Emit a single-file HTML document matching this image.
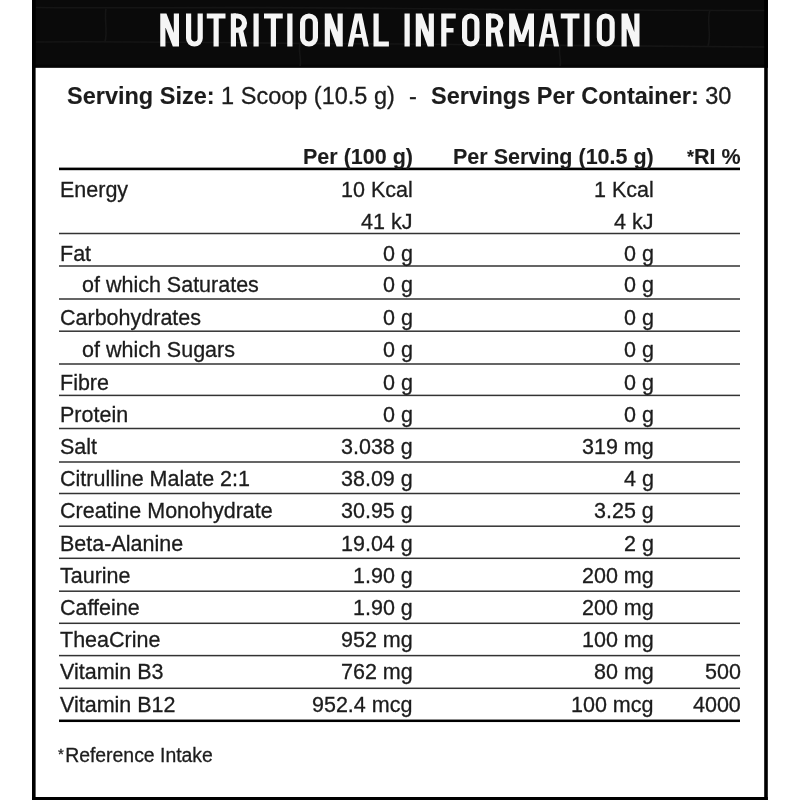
<!DOCTYPE html>
<html><head><meta charset="utf-8"><style>
html,body{margin:0;padding:0;background:#fff;}
body{width:800px;height:800px;position:relative;overflow:hidden;font-family:"Liberation Sans",sans-serif;color:#1c1c1c;}
.t{position:absolute;font-size:21.5px;line-height:30px;white-space:nowrap;will-change:transform;-webkit-text-stroke:0.3px #1c1c1c;}
.b,.t b{font-weight:bold;-webkit-text-stroke-width:0.1px;}
svg{position:absolute;left:0;top:0;}
</style></head><body>
<svg width="800" height="800" viewBox="0 0 800 800"><rect x="32" y="0" width="736" height="67.6" fill="#0a0a0a"/><rect x="32" y="64.6" width="736" height="3" fill="#050505"/></svg>
<svg width="800" height="70" viewBox="0 0 800 70"><g fill="none" stroke="#151515" stroke-width="1.6"><path d="M36 7.5 C120 8.5 250 6.5 400 8.5 S640 10 766 10.5"/><path d="M36 42 C140 41 260 43.5 400 44 S640 46.5 766 47"/><path d="M106 8.5 C104 20 108 30 105 42"/><path d="M710 10 C706 22 712 34 708 46"/><path d="M300 44 C298 52 302 60 300 66"/><path d="M560 46 C558 54 562 60 560 66"/></g></svg>
<svg width="800" height="800" viewBox="0 0 800 800"><rect x="32" y="0" width="3.6" height="800" fill="#000"/><rect x="764.2" y="0" width="3.6" height="800" fill="#000"/><rect x="32" y="797" width="735.8" height="3" fill="#000"/></svg>
<svg width="800" height="70" viewBox="0 0 800 70"><path d="M160.25 13.40H165.45V46.60H160.25ZM173.80 13.40H179.00V46.60H173.80ZM160.25 13.40L166.45 13.40L179.00 46.60L172.80 46.60ZM206.75 13.40H225.50V18.60H206.75ZM213.53 13.40H218.72V46.60H213.53ZM230.80 13.40H236.00V46.60H230.80ZM237.60 28.70L242.80 28.70L247.20 46.60L241.20 46.60ZM253.50 13.40H258.70V46.60H253.50ZM264.00 13.40H282.75V18.60H264.00ZM270.77 13.40H275.98V46.60H270.77ZM287.25 13.40H292.50V46.60H287.25ZM324.75 13.40H329.95V46.60H324.75ZM337.55 13.40H342.75V46.60H337.55ZM324.75 13.40L330.95 13.40L342.75 46.60L336.55 46.60ZM354.77 13.40L361.77 13.40L368.80 46.60L363.60 46.60L358.27 20.20L352.95 46.60L347.75 46.60ZM350.75 34.00H365.80V37.80H350.75ZM373.50 13.40H378.70V46.60H373.50ZM373.50 41.40H388.90V46.60H373.50ZM404.50 13.40H409.75V46.60H404.50ZM415.75 13.40H420.95V46.60H415.75ZM428.70 13.40H433.90V46.60H428.70ZM415.75 13.40L421.95 13.40L433.90 46.60L427.70 46.60ZM441.20 13.40H446.40V46.60H441.20ZM441.20 13.40H455.75V18.60H441.20ZM441.20 28.00H453.55V32.40H441.20ZM486.00 13.40H491.20V46.60H486.00ZM493.90 28.70L499.10 28.70L503.50 46.60L497.50 46.60ZM509.10 13.40H514.30V46.60H509.10ZM528.80 13.40H534.00V46.60H528.80ZM509.10 13.40L514.70 13.40L521.55 35.00L528.40 13.40L534.00 13.40L524.15 42.00L518.95 42.00ZM545.42 13.40L552.42 13.40L559.10 46.60L553.90 46.60L548.92 20.20L543.95 46.60L538.75 46.60ZM541.75 34.00H556.10V37.80H541.75ZM560.75 13.40H579.50V18.60H560.75ZM567.52 13.40H572.73V46.60H567.52ZM584.30 13.40H589.60V46.60H584.30ZM621.50 13.40H626.70V46.60H621.50ZM634.30 13.40H639.50V46.60H634.30ZM621.50 13.40L627.70 13.40L639.50 46.60L633.30 46.60Z" fill="#f5f5f5"/><path d="M188.60 13.40V38.20A5.80 5.80 0 0 0 200.20 38.20V13.40M233.40 16.00H237.40A7.10 7.10 0 0 1 237.40 30.20H233.40M302.60 22.40A6.40 6.40 0 0 1 315.40 22.40V37.60A6.40 6.40 0 0 1 302.60 37.60ZM464.60 22.15A6.15 6.15 0 0 1 476.90 22.15V37.85A6.15 6.15 0 0 1 464.60 37.85ZM488.60 16.00H493.70A7.10 7.10 0 0 1 493.70 30.20H488.60M599.35 22.40A6.40 6.40 0 0 1 612.15 22.40V37.60A6.40 6.40 0 0 1 599.35 37.60Z" fill="none" stroke="#f5f5f5" stroke-width="5.2"/></svg>
<div class="t" style="top:80.60px;left:67.3px;font-size:23.5px;"><b>Serving Size:</b> 1 Scoop (10.5 g)</div>
<div class="t" style="top:80.60px;left:409px;font-size:23.5px;">-</div>
<div class="t" style="top:80.60px;left:431.2px;font-size:23.5px;"><b>Servings Per Container:</b> 30</div>
<svg width="800" height="800" viewBox="0 0 800 800"><rect x="59" y="167.60" width="681" height="2.6" fill="#000"/><rect x="59" y="232.75" width="681" height="1.5" fill="#333"/><rect x="59" y="265.25" width="681" height="1.5" fill="#333"/><rect x="59" y="298.25" width="681" height="1.5" fill="#333"/><rect x="59" y="330.45" width="681" height="1.5" fill="#333"/><rect x="59" y="363.25" width="681" height="1.5" fill="#333"/><rect x="59" y="394.65" width="681" height="1.5" fill="#333"/><rect x="59" y="427.75" width="681" height="1.5" fill="#333"/><rect x="59" y="461.25" width="681" height="1.5" fill="#333"/><rect x="59" y="492.75" width="681" height="1.5" fill="#333"/><rect x="59" y="525.45" width="681" height="1.5" fill="#333"/><rect x="59" y="557.55" width="681" height="1.5" fill="#333"/><rect x="59" y="590.45" width="681" height="1.5" fill="#333"/><rect x="59" y="622.55" width="681" height="1.5" fill="#333"/><rect x="59" y="654.85" width="681" height="1.5" fill="#333"/><rect x="59" y="687.55" width="681" height="1.5" fill="#333"/><rect x="59" y="719.55" width="681" height="2.5" fill="#000"/></svg>
<div class="t r b" style="top:142.10px;right:387.50px;">Per (100 g)</div><div class="t r b" style="top:142.10px;right:146.40px;">Per Serving (10.5 g)</div><div class="t r b" style="top:142.10px;right:59.00px;"><span style="font-size:18px;position:relative;top:-1px">*</span>RI %</div><div class="t " style="top:174.80px;left:60.30px;">Energy</div><div class="t r " style="top:174.80px;right:387.50px;">10 Kcal</div><div class="t r " style="top:174.80px;right:146.40px;">1 Kcal</div><div class="t r " style="top:206.80px;right:387.50px;">41 kJ</div><div class="t r " style="top:206.80px;right:146.40px;">4 kJ</div><div class="t " style="top:238.80px;left:60.30px;">Fat</div><div class="t r " style="top:238.80px;right:387.50px;">0 g</div><div class="t r " style="top:238.80px;right:146.40px;">0 g</div><div class="t " style="top:270.30px;left:82.00px;">of which Saturates</div><div class="t r " style="top:270.30px;right:387.50px;">0 g</div><div class="t r " style="top:270.30px;right:146.40px;">0 g</div><div class="t " style="top:303.20px;left:60.30px;">Carbohydrates</div><div class="t r " style="top:303.20px;right:387.50px;">0 g</div><div class="t r " style="top:303.20px;right:146.40px;">0 g</div><div class="t " style="top:335.30px;left:82.00px;">of which Sugars</div><div class="t r " style="top:335.30px;right:387.50px;">0 g</div><div class="t r " style="top:335.30px;right:146.40px;">0 g</div><div class="t " style="top:367.70px;left:60.30px;">Fibre</div><div class="t r " style="top:367.70px;right:387.50px;">0 g</div><div class="t r " style="top:367.70px;right:146.40px;">0 g</div><div class="t " style="top:400.25px;left:60.30px;">Protein</div><div class="t r " style="top:400.25px;right:387.50px;">0 g</div><div class="t r " style="top:400.25px;right:146.40px;">0 g</div><div class="t " style="top:432.40px;left:60.30px;">Salt</div><div class="t r " style="top:432.40px;right:387.50px;">3.038 g</div><div class="t r " style="top:432.40px;right:146.40px;">319 mg</div><div class="t " style="top:464.20px;left:60.30px;">Citrulline Malate 2:1</div><div class="t r " style="top:464.20px;right:387.50px;">38.09 g</div><div class="t r " style="top:464.20px;right:146.40px;">4 g</div><div class="t " style="top:496.40px;left:60.30px;">Creatine Monohydrate</div><div class="t r " style="top:496.40px;right:387.50px;">30.95 g</div><div class="t r " style="top:496.40px;right:146.40px;">3.25 g</div><div class="t " style="top:528.60px;left:60.30px;">Beta-Alanine</div><div class="t r " style="top:528.60px;right:387.50px;">19.04 g</div><div class="t r " style="top:528.60px;right:146.40px;">2 g</div><div class="t " style="top:561.30px;left:60.30px;">Taurine</div><div class="t r " style="top:561.30px;right:387.50px;">1.90 g</div><div class="t r " style="top:561.30px;right:146.40px;">200 mg</div><div class="t " style="top:593.20px;left:60.30px;">Caffeine</div><div class="t r " style="top:593.20px;right:387.50px;">1.90 g</div><div class="t r " style="top:593.20px;right:146.40px;">200 mg</div><div class="t " style="top:625.30px;left:60.30px;">TheaCrine</div><div class="t r " style="top:625.30px;right:387.50px;">952 mg</div><div class="t r " style="top:625.30px;right:146.40px;">100 mg</div><div class="t " style="top:657.30px;left:60.30px;">Vitamin B3</div><div class="t r " style="top:657.30px;right:387.50px;">762 mg</div><div class="t r " style="top:657.30px;right:146.40px;">80 mg</div><div class="t r " style="top:657.30px;right:59.00px;">500</div><div class="t " style="top:689.70px;left:60.30px;">Vitamin B12</div><div class="t r " style="top:689.70px;right:387.50px;">952.4 mcg</div><div class="t r " style="top:689.70px;right:146.40px;">100 mcg</div><div class="t r " style="top:689.70px;right:59.00px;">4000</div>
<div class="t" style="top:739.50px;left:58.3px;font-size:19.4px;"><span style="font-size:15px;position:relative;top:-3.5px;margin-right:1.3px">*</span>Reference Intake</div>
</body></html>
